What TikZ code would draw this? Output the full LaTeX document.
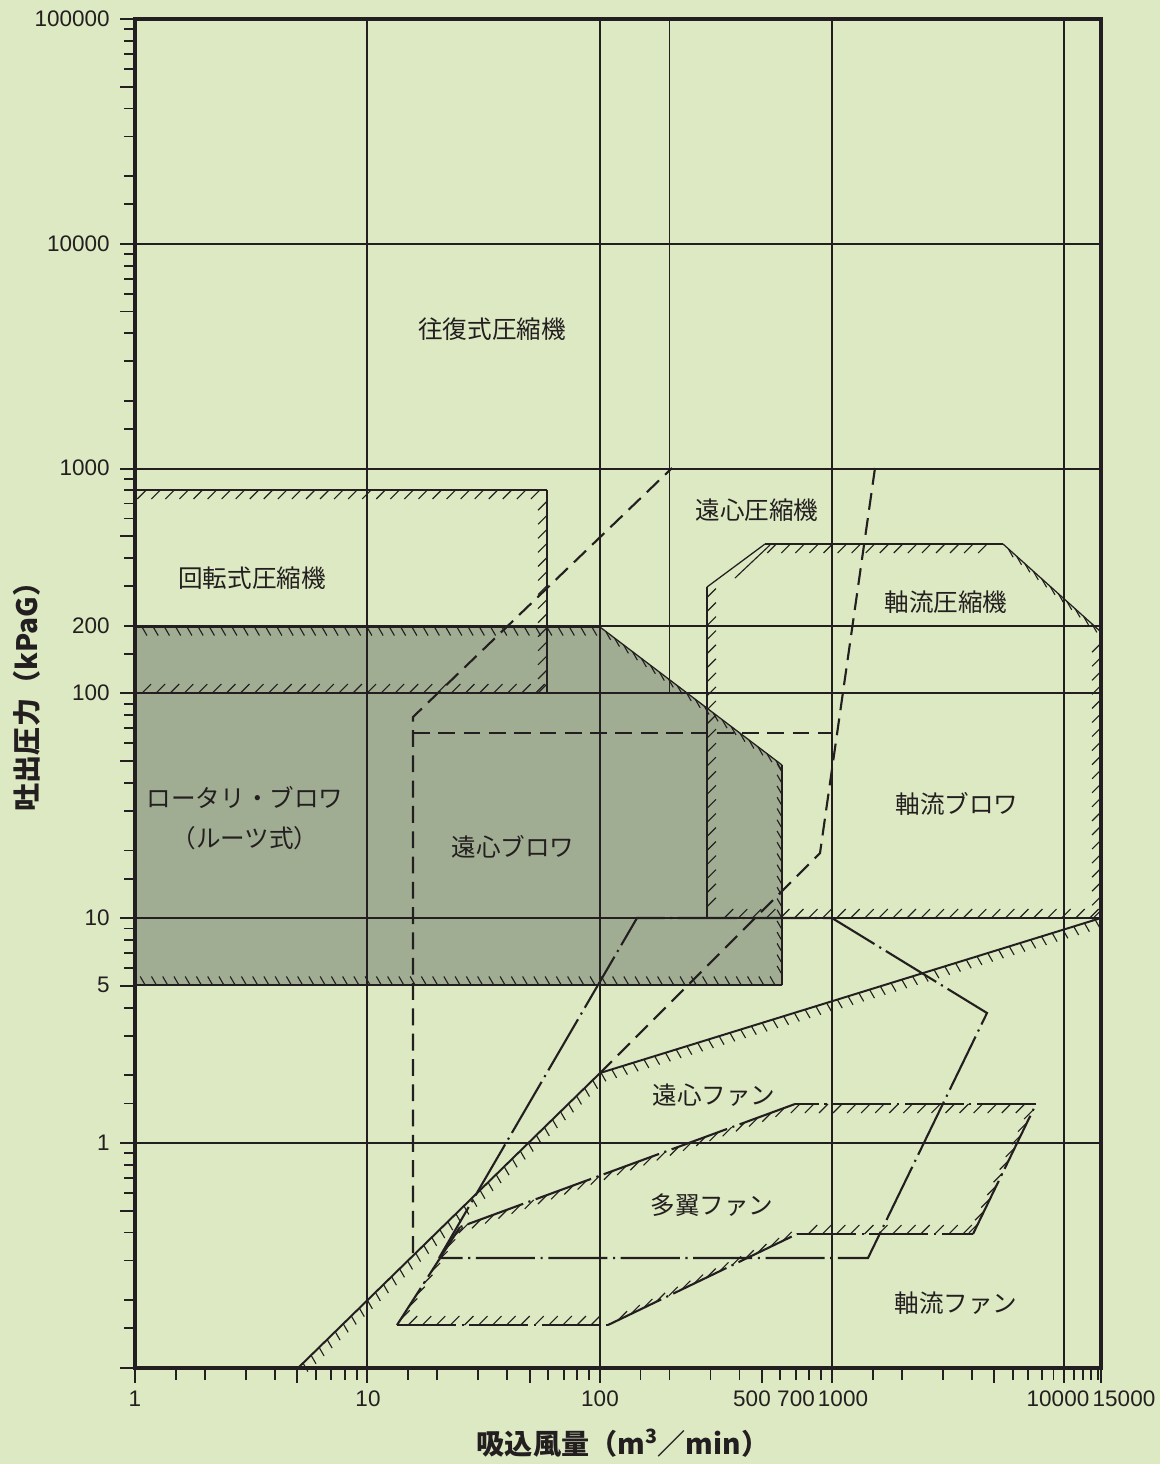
\documentclass[tikz,border=0pt]{standalone}
\usepackage{fontspec}
\setmainfont{Liberation Sans}
\newfontfamily\jpfont{Noto Sans CJK JP}
\usetikzlibrary{decorations.markings}

\definecolor{paper}{RGB}{220,233,194}
\definecolor{rootsfill}{RGB}{160,173,146}
\definecolor{ink}{RGB}{35,31,32}

\tikzset{
  gridline/.style={ink, line width=1.3pt},
  frameline/.style={ink, line width=2.6pt},
  tickline/.style={ink, line width=1.3pt},
  arealine/.style={ink, line width=0.9pt},
  dashline/.style={ink, line width=1.5pt, dash pattern=on 12pt off 6pt},
  chainline/.style={ink, line width=1.5pt, dash pattern=on 42pt off 4pt on 1.5pt off 4pt},
  % "/" marks on the inner side of an edge
  hatch/.style={postaction={decorate, decoration={markings,
    mark=between positions 8pt and -3pt step 10pt with
      {\pgftransformresetnontranslations \draw[ink, solid, line width=0.8pt] (0,0) -- (#1:9pt);}}}},
  % short "\" marks
  comb/.style={postaction={decorate, decoration={markings,
    mark=between positions 5pt and -3pt step 8pt with
      {\pgftransformresetnontranslations \draw[ink, solid, line width=0.8pt] (0,0) -- (#1:7pt);}}}},
  area label/.style={font=\jpfont\fontsize{17.5}{28}\selectfont, text=ink, inner sep=0pt, align=center},
  tick label/.style={font=\fontsize{16}{18}\selectfont, text=ink, inner sep=0pt},
  axis title/.style={font=\jpfont\bfseries\fontsize{20}{24}\selectfont, text=ink, inner sep=0pt}
}

\begin{document}
\begin{tikzpicture}[x=0.25mm, y=-0.25mm]
\useasboundingbox (0,0) rectangle (1160,1464);
\fill[paper] (0,0) rectangle (1160,1464);

%Corner points of the areas (pixel grid, 1 = 135/1143, one decade = 232.3 x 224.8)
\coordinate (rcA) at (135,490);
\coordinate (rcB) at (547,490);
\coordinate (rcC) at (547,693);
\coordinate (rcD) at (135,693);

\coordinate (rbA) at (135,627);
\coordinate (rbB) at (600,627);
\coordinate (rbC) at (782,765);
\coordinate (rbD) at (782,985);
\coordinate (rbE) at (135,985);

\coordinate (acA) at (707,918);
\coordinate (acB) at (707,587);
\coordinate (acC) at (765,544);
\coordinate (acD) at (1003,544);
\coordinate (acE) at (1101,632);
\coordinate (acF) at (1101,918);

\coordinate (ccA) at (413,1253);
\coordinate (ccB) at (413,717);
\coordinate (ccC) at (672,468);
\coordinate (ccD) at (413,733);
\coordinate (ccE) at (832,733);
\coordinate (ccF) at (875,468);
\coordinate (ccG) at (820,853);
\coordinate (ccH) at (600,1073);

\coordinate (cfA) at (298,1368);
\coordinate (cfC) at (1101,918);

\coordinate (mbA) at (397,1325);
\coordinate (mbB) at (608,1325);
\coordinate (mbC) at (797,1234);
\coordinate (mbD) at (973,1234);
\coordinate (mbE) at (1036,1104);
\coordinate (mbF) at (795,1104);
\coordinate (mbG) at (460,1227);

\coordinate (afA) at (439,1258);
\coordinate (afB) at (637,918);
\coordinate (afC) at (832,918);
\coordinate (afD) at (987,1013);
\coordinate (afE) at (868,1258);

%Roots blower area
\fill[rootsfill] (rbA) -- (rbB) -- (rbC) -- (rbD) -- (rbE) -- cycle;

%Grid
\foreach \d in {1,2,3,4}
  \draw[gridline] ({135+232.3*\d},19) -- ({135+232.3*\d},1368);
\draw[gridline] ({135+232.3*log10(200)},19) -- ({135+232.3*log10(200)},693);
\foreach \e in {0,1,2,3,4}
  \draw[gridline] (135,{1143-224.8*\e}) -- (1101,{1143-224.8*\e});
\draw[gridline] (135,{1143-224.8*log10(200)}) -- (1101,{1143-224.8*log10(200)});

%Rotary compressor
\draw[arealine, hatch=225] (rcA) -- (rcB);
\draw[arealine, hatch=225] (rcB) -- (rcC);
\draw[arealine, hatch=45] (rcC) -- (rcD);

%Roots blower
\draw[arealine, comb=300] (rbA) -- (rbB);
\draw[arealine, comb=300] (rbB) -- (rbC);
\draw[arealine, comb=120] (rbC) -- (rbD);
\draw[arealine, comb=120] (rbD) -- (rbE);

%Axial compressor and blower
\draw[arealine, hatch=45] (acA) -- (acB);
\draw[arealine] (acB) -- (acC);
\draw[ink, line width=0.8pt] (735,578) -- (770,545);
\draw[arealine, hatch=225] (acC) -- (acD);
\draw[arealine, comb=300] (acD) -- (acE);
\draw[arealine, hatch=225] (acE) -- (acF);
\draw[arealine, hatch=45] (acF) -- (acA);

%Centrifugal compressor and blower
\draw[dashline] (ccA) -- (ccB) -- (ccC);
\draw[dashline] (ccD) -- (ccE);
\draw[dashline] (ccF) -- (ccG) -- (ccH);

%Centrifugal fan
\draw[ink, line width=1.4pt, comb=300] (cfA) -- (ccH) -- (cfC);

%Multiblade fan
\draw[chainline, hatch=45] (mbA) -- (mbB);
\draw[chainline, hatch=45] (mbB) -- (mbC);
\draw[chainline, hatch=45] (mbC) -- (mbD);
\draw[chainline, hatch=225] (mbD) -- (mbE);
\draw[chainline, hatch=225] (mbE) -- (mbF);
\draw[chainline, hatch=225] (mbF) -- (mbG);
\draw[chainline, hatch=45] (mbG) -- (mbA);

%Axial fan
\draw[chainline] (afA) -- (afB) -- (afC) -- (afD) -- (afE) -- cycle;

%Frame and ticks
\draw[frameline] (135,19) rectangle (1101,1368);
\foreach \d in {-1,0,1,2,3,4} {
  \foreach \m in {1.5,2,3,4,6,7,8,9}
    \draw[tickline] (124,{1143-224.8*(\d+log10(\m))}) -- (135,{1143-224.8*(\d+log10(\m))});
  \foreach \m in {1,5}
    \draw[tickline] (120,{1143-224.8*(\d+log10(\m))}) -- (135,{1143-224.8*(\d+log10(\m))});
}
\draw[tickline] (120,19) -- (135,19);
\foreach \d in {0,1,2,3} {
  \foreach \m in {1.5,2,3,4,6,7,8,9}
    \draw[tickline] ({135+232.3*(\d+log10(\m))},1368) -- ({135+232.3*(\d+log10(\m))},1380);
  \foreach \m in {1,5}
    \draw[tickline] ({135+232.3*(\d+log10(\m))},1368) -- ({135+232.3*(\d+log10(\m))},1383);
}
\foreach \m in {1.1,1.2,1.3,1.4}
  \draw[tickline] ({135+232.3*(4+log10(\m))},1368) -- ({135+232.3*(4+log10(\m))},1380);
\draw[tickline] (1064.2,1368) -- (1064.2,1383);
\draw[tickline] (1101,1368) -- (1101,1383);

%Tick labels
\node[tick label, anchor=east] (y100000) at (110,19) {100000};
\node[tick label, anchor=east] (y10000) at (110,244) {10000};
\node[tick label, anchor=east] (y1000) at (110,468) {1000};
\node[tick label, anchor=east] (y200) at (110,626) {200};
\node[tick label, anchor=east] (y100) at (110,693) {100};
\node[tick label, anchor=east] (y10) at (110,918) {10};
\node[tick label, anchor=east] (y5) at (110,985) {5};
\node[tick label, anchor=east] (y1) at (110,1143) {1};

\node[tick label] (x1) at (135,1399) {1};
\node[tick label] (x10) at (368,1399) {10};
\node[tick label] (x100) at (600,1399) {100};
\node[tick label] (x500) at (752,1399) {500};
\node[tick label] (x700) at (796,1399) {700};
\node[tick label] (x1000) at (843,1399) {1000};
\node[tick label] (x10000) at (1058,1399) {10000};
\node[tick label] (x15000) at (1124,1399) {15000};

%Axis titles
\node[axis title] (xtitle) at (623,1443) {吸込風量（m\textsuperscript{3}／min）};
\node[axis title, rotate=90] (ytitle) at (27,690) {吐出圧力（kPaG）};

%Area names
\node[area label] (recip) at (492,329) {往復式圧縮機};
\node[area label] (centcomp) at (757,510) {遠心圧縮機};
\node[area label] (rotcomp) at (252,578) {回転式圧縮機};
\node[area label] (axcomp) at (946,602) {軸流圧縮機};
\node[area label] (roots) at (245,818) {ロータリ・ブロワ\\（ルーツ式）};
\node[area label] (centblow) at (513,847) {遠心ブロワ};
\node[area label] (axblow) at (957,804) {軸流ブロワ};
\node[area label] (centfan) at (714,1095) {遠心ファン};
\node[area label] (multifan) at (712,1205) {多翼ファン};
\node[area label] (axfan) at (956,1303) {軸流ファン};
\end{tikzpicture}
\end{document}
